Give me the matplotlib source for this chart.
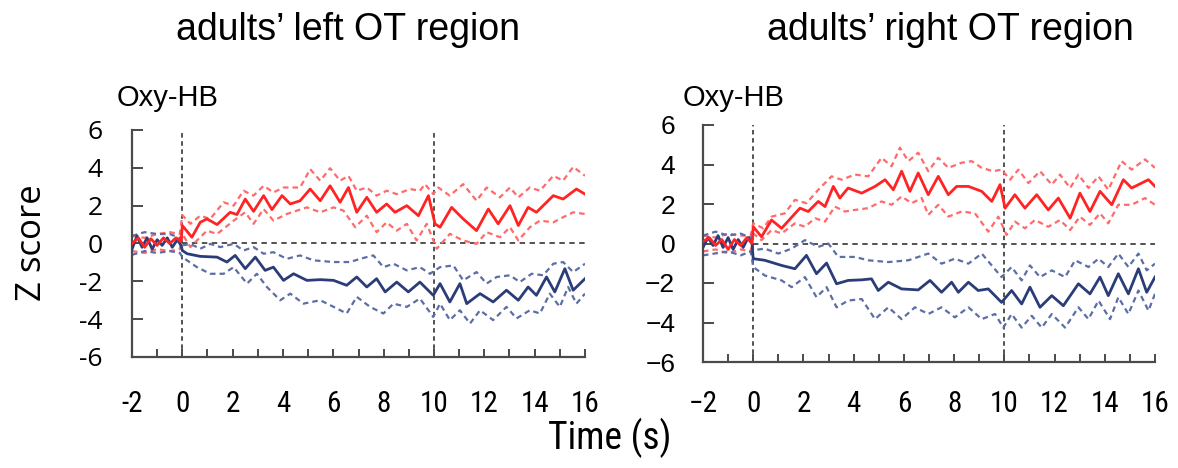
import matplotlib
matplotlib.use("Agg")
import matplotlib.pyplot as plt
from matplotlib import font_manager as fm

# ---------------- data ----------------
titles = ["adults\u2019 left OT region", "adults\u2019 right OT region"]
panel_label = "Oxy-HB"
x_ticks = [-2, 0, 2, 4, 6, 8, 10, 12, 14, 16]
y_ticks = [-6, -4, -2, 0, 2, 4, 6]

# left panel
L_red_t = [-2, -1.75, -1.5, -1.25, -1.0, -0.75, -0.5, -0.25, -0.05, 0, 0.38, 0.71, 0.98, 1.38, 1.9, 2.17, 2.5, 2.83, 3.23, 3.56,
           3.96, 4.29, 4.68, 5.08, 5.48, 5.87, 6.27, 6.6, 6.93, 7.33, 7.72, 8.12, 8.45, 8.92, 9.38, 9.78, 10.04,
           10.24, 10.7, 11.16, 11.69, 12.16, 12.55, 13.02, 13.35, 13.74, 14.07, 14.74, 15.13, 15.66, 16.0]
L_red_z = [0.0, 0.3, -0.2, 0.25, -0.1, 0.3, 0.0, 0.3, 0.1, 0.95, 0.33, 1.12, 1.3, 1.0, 1.65, 1.53, 2.35, 1.7, 2.53, 1.79,
           2.53, 2.09, 2.26, 2.88, 2.26, 3.05, 2.18, 2.96, 1.65, 2.44, 1.65, 2.09, 1.65, 2.0, 1.47, 2.53, 1.04,
           0.86, 1.91, 1.3, 0.68, 1.82, 1.04, 2.0, 0.95, 1.91, 1.65, 2.53, 2.35, 2.88, 2.61]
L_red_up_t = [-2, -1.5, -1.0, -0.5, -0.1, 0, 0.32, 0.71, 1.11, 1.64, 2.04, 2.43, 2.83, 3.23, 3.62, 4.02, 4.68, 5.08, 5.48,
              5.87, 6.27, 6.6, 6.93, 7.33, 7.72, 8.12, 8.52, 9.05, 9.44, 9.64, 9.97, 10.17, 10.63, 11.16, 11.69,
              12.09, 12.62, 13.02, 13.35, 13.81, 14.21, 14.74, 15.13, 15.53, 16.0]
L_red_up_z = [0.4, 0.3, 0.5, 0.6, 0.5, 1.5, 1.04, 1.47, 1.3, 2.18, 2.0, 2.79, 2.53, 3.05, 2.7, 2.96, 2.96, 3.93, 3.32,
              3.98, 3.32, 3.58, 2.79, 2.96, 2.53, 2.79, 2.61, 2.88, 2.79, 3.14, 2.61, 2.96, 2.53, 3.14, 2.26,
              2.96, 2.44, 2.96, 2.44, 2.96, 2.79, 3.58, 3.32, 4.05, 3.58]
L_red_lo_t = [-2, -1.5, -1.0, -0.5, -0.1, 0, 0.32, 0.71, 0.98, 1.38, 2.04, 2.5, 2.83, 3.23, 3.62, 4.15, 4.95, 5.48, 6.01,
              6.4, 6.87, 7.33, 7.72, 8.12, 8.52, 8.92, 9.31, 9.71, 10.11, 10.63, 11.16, 11.69, 12.09, 12.62,
              13.02, 13.35, 13.81, 14.21, 14.74, 15.13, 15.53, 16.0]
L_red_lo_z = [-0.4, -0.5, -0.3, -0.4, -0.3, 0.5, -0.19, 0.33, 0.68, 0.5, 1.21, 1.65, 1.04, 1.82, 1.21, 1.56, 1.91, 1.65, 1.91,
              1.74, 0.86, 1.47, 0.6, 1.12, 0.68, 1.04, 0.16, 1.04, -0.28, 0.51, 0.16, -0.02, 0.6, 0.33,
              0.86, 0.16, 0.86, 1.21, 1.12, 1.39, 1.65, 1.56]
L_blue_t = [-2, -1.8, -1.6, -1.4, -1.2, -1.0, -0.8, -0.6, -0.4, -0.2, -0.05, 0, 0.19, 0.71, 1.38, 1.77, 2.1, 2.5, 2.9, 3.29,
            3.62, 4.02, 4.42, 4.95, 5.48, 6.01, 6.53, 6.93, 7.33, 7.72, 8.06, 8.52, 8.98, 9.44, 9.97, 10.24,
            10.63, 11.03, 11.3, 11.83, 12.35, 12.88, 13.35, 13.74, 14.07, 14.47, 14.8, 15.2, 15.53, 16.0]
L_blue_z = [-0.3, 0.4, -0.2, 0.3, -0.3, 0.2, -0.1, 0.3, -0.2, 0.2, -0.1, -0.37, -0.54, -0.68, -0.72, -0.98, -0.63, -1.33, -0.72, -1.42,
            -1.25, -1.95, -1.6, -1.95, -1.91, -1.95, -2.21, -1.77, -2.3, -1.86, -2.56, -2.04, -2.56, -2.04, -2.74, -2.12,
            -3.09, -2.12, -3.18, -2.65, -3.09, -2.47, -3.0, -2.3, -2.74, -1.77, -2.56, -1.33, -2.47, -1.86]
L_blue_up_t = [-2, -1.5, -1.0, -0.5, -0.1, 0, 0.32, 0.71, 1.11, 1.51, 2.04, 2.43, 2.83, 3.23, 3.62, 4.15, 4.68, 5.21, 6.01,
               6.67, 7.06, 7.59, 7.99, 8.39, 8.92, 9.44, 9.84, 10.24, 10.77, 11.16, 11.69, 12.09, 12.49, 13.02,
               13.41, 13.88, 14.34, 14.74, 15.13, 15.53, 16.0]
L_blue_up_z = [0.4, 0.6, 0.5, 0.5, 0.3, -0.1, -0.02, -0.28, -0.02, -0.19, -0.02, -0.37, -0.19, -0.54, -0.46, -0.81, -0.63, -0.89, -0.98,
               -0.98, -0.81, -0.63, -1.25, -1.07, -1.42, -1.25, -1.6, -1.25, -1.16, -1.95, -1.51, -2.12, -1.77, -1.68,
               -2.04, -1.6, -1.68, -1.07, -0.98, -1.51, -1.07]
L_blue_lo_t = [-2, -1.5, -1.0, -0.5, -0.1, 0, 0.58, 1.11, 1.64, 2.04, 2.57, 2.96, 3.36, 3.89, 4.29, 4.81, 5.48, 6.01, 6.53,
               6.93, 7.46, 7.99, 8.39, 8.92, 9.44, 9.97, 10.24, 10.63, 11.03, 11.43, 11.83, 12.35, 12.88, 13.28,
               13.81, 14.21, 14.6, 15.0, 15.33, 15.66, 16.0]
L_blue_lo_z = [-0.6, -0.4, -0.5, -0.4, -0.5, -0.72, -1.25, -1.6, -1.6, -1.25, -2.12, -1.6, -2.3, -3.0, -2.65, -3.18, -3.0, -3.35, -3.7,
               -2.82, -3.35, -3.7, -3.18, -3.35, -2.91, -3.88, -3.18, -4.05, -3.53, -4.23, -3.53, -4.05, -3.35, -3.96,
               -3.53, -3.7, -2.65, -3.35, -2.3, -3.18, -2.65]

# right panel
R_red_t = [-2, -1.75, -1.5, -1.25, -1.0, -0.75, -0.5, -0.25, -0.05, 0, 0.33, 0.73, 1.13, 1.86, 2.19, 2.59, 2.86, 3.19, 3.45,
           3.78, 4.32, 4.85, 5.25, 5.58, 5.91, 6.24, 6.57, 6.97, 7.37, 7.77, 8.1, 8.57, 9.1, 9.5, 9.83, 10.03,
           10.42, 10.82, 11.29, 11.75, 12.15, 12.62, 13.01, 13.41, 13.81, 14.28, 14.74, 15.07, 15.74, 16.0]
R_red_z = [0.1, 0.3, -0.1, 0.2, -0.3, 0.2, -0.1, 0.3, 0.0, 0.85, 0.34, 1.19, 0.77, 1.79, 1.62, 2.13, 1.87, 2.89, 2.3,
           2.81, 2.55, 2.89, 3.23, 2.72, 3.66, 2.64, 3.57, 2.47, 3.4, 2.47, 2.89, 2.89, 2.64, 2.13, 2.98, 1.79,
           2.47, 1.79, 2.47, 1.7, 2.3, 1.28, 2.55, 1.62, 2.64, 1.96, 3.23, 2.81, 3.23, 2.89]
R_red_up_t = [-2, -1.5, -1.0, -0.5, -0.1, 0, 0.4, 0.73, 1.26, 1.66, 2.12, 2.59, 3.12, 3.52, 4.05, 4.58, 5.11, 5.51, 5.84,
              6.18, 6.57, 6.97, 7.37, 7.77, 8.3, 8.7, 9.1, 9.56, 9.89, 10.23, 10.56, 10.96, 11.42, 11.89, 12.22,
              12.62, 12.95, 13.35, 13.75, 14.14, 14.67, 15.07, 15.6, 16.0]
R_red_up_z = [0.4, 0.3, 0.5, 0.4, 0.4, 1.02, 0.77, 1.36, 1.53, 2.21, 2.04, 2.72, 3.4, 3.23, 3.49, 3.4, 4.34, 3.91, 4.85,
              4.17, 4.6, 3.66, 4.34, 3.83, 4.09, 4.17, 3.83, 3.66, 3.74, 3.23, 3.74, 3.06, 3.66, 2.98, 3.49,
              2.81, 3.49, 2.81, 3.4, 2.72, 4.17, 3.74, 4.26, 3.83]
R_red_lo_t = [-2, -1.5, -1.0, -0.5, -0.1, 0, 0.33, 0.73, 1.13, 1.66, 2.06, 2.46, 2.86, 3.25, 3.65, 4.05, 4.58, 5.11, 5.51,
              5.91, 6.31, 6.71, 6.97, 7.37, 7.77, 8.3, 8.83, 9.36, 9.76, 10.09, 10.42, 10.82, 11.22, 11.75, 12.22,
              12.62, 13.01, 13.41, 13.81, 14.14, 14.54, 15.07, 15.6, 16.0]
R_red_lo_z = [-0.4, -0.3, -0.5, -0.3, -0.4, 0.51, 0.17, 0.68, 0.51, 1.02, 0.85, 1.28, 1.11, 1.87, 1.62, 1.7, 1.79, 2.13, 1.96,
              2.38, 2.04, 2.3, 1.45, 1.96, 1.36, 1.62, 1.53, 0.6, 1.36, 0.43, 1.11, 0.77, 1.19, 0.85, 1.19,
              0.68, 1.36, 0.94, 1.53, 1.02, 1.96, 1.96, 2.3, 1.96]
R_blue_t = [-2, -1.8, -1.6, -1.4, -1.2, -1.0, -0.8, -0.6, -0.4, -0.2, -0.05, 0, 0.46, 1.13, 1.66, 2.12, 2.52, 2.92, 3.32, 3.78,
            4.32, 4.71, 4.98, 5.38, 5.91, 6.57, 7.04, 7.5, 7.9, 8.17, 8.57, 8.96, 9.36, 9.89, 10.29, 10.69,
            11.02, 11.42, 11.89, 12.35, 12.95, 13.41, 13.81, 14.14, 14.54, 14.94, 15.34, 15.67, 16.0]
R_blue_z = [-0.2, 0.3, -0.1, 0.4, -0.2, 0.3, -0.3, 0.2, -0.2, 0.3, 0.0, -0.77, -0.85, -1.11, -1.28, -0.6, -1.53, -0.99, -2.04, -1.87,
            -1.84, -1.79, -2.38, -1.96, -2.3, -2.35, -1.87, -2.47, -1.96, -2.47, -1.96, -2.38, -2.3, -2.98, -2.38, -3.06,
            -2.21, -3.23, -2.64, -3.15, -2.04, -2.55, -1.7, -2.64, -1.53, -2.55, -1.28, -2.47, -1.7]
R_blue_up_t = [-2, -1.5, -1.0, -0.5, -0.1, 0, 0.46, 1.0, 1.53, 2.06, 2.59, 2.99, 3.39, 4.05, 4.58, 5.38, 6.18, 6.97, 7.5,
               8.03, 8.57, 9.1, 9.89, 10.29, 10.69, 11.02, 11.42, 11.89, 12.42, 12.82, 13.35, 13.75, 14.14, 14.54,
               14.94, 15.34, 15.67, 16.0]
R_blue_up_z = [0.4, 0.6, 0.4, 0.5, 0.3, -0.34, -0.26, -0.51, -0.26, 0.17, -0.17, 0.0, -0.68, -0.68, -0.85, -0.94, -0.85, -0.51, -1.02,
               -0.77, -1.02, -0.51, -1.7, -1.19, -1.87, -1.11, -1.7, -1.36, -1.7, -0.85, -1.19, -0.77, -1.19, -0.51,
               -1.19, -0.51, -1.36, -1.02]
R_blue_lo_t = [-2, -1.5, -1.0, -0.5, -0.1, 0, 0.46, 1.13, 1.53, 2.06, 2.52, 2.92, 3.32, 3.78, 4.32, 4.85, 5.38, 5.91, 6.44,
               6.97, 7.5, 8.03, 8.57, 9.1, 9.63, 9.96, 10.29, 10.69, 11.09, 11.49, 11.89, 12.42, 12.95, 13.35,
               13.75, 14.21, 14.54, 14.94, 15.34, 15.74, 16.0]
R_blue_lo_z = [-0.6, -0.5, -0.4, -0.6, -0.4, -1.19, -1.62, -1.87, -2.21, -1.7, -2.72, -2.21, -3.23, -2.89, -2.81, -3.83, -3.23, -3.83, -3.23,
               -3.57, -3.23, -3.74, -3.23, -3.83, -3.57, -4.26, -3.57, -4.26, -3.66, -4.26, -3.57, -4.26, -3.23, -3.83,
               -2.89, -3.83, -2.72, -3.57, -2.38, -3.4, -2.55]

panels = [
    dict(red=(L_red_t, L_red_z), red_up=(L_red_up_t, L_red_up_z), red_lo=(L_red_lo_t, L_red_lo_z),
         blue=(L_blue_t, L_blue_z), blue_up=(L_blue_up_t, L_blue_up_z), blue_lo=(L_blue_lo_t, L_blue_lo_z)),
    dict(red=(R_red_t, R_red_z), red_up=(R_red_up_t, R_red_up_z), red_lo=(R_red_lo_t, R_red_lo_z),
         blue=(R_blue_t, R_blue_z), blue_up=(R_blue_up_t, R_blue_up_z), blue_lo=(R_blue_lo_t, R_blue_lo_z)),
]

# ---------------- fonts ----------------
avail = {f.name for f in fm.fontManager.ttflist}
def pick(*names):
    for n in names:
        if n in avail:
            return n
    return "DejaVu Sans"
F_ARIAL = pick("Liberation Sans", "Arial", "DejaVu Sans")
F_NARROW = pick("Liberation Sans Narrow", "DejaVu Sans Condensed", "Roboto Condensed", "Liberation Sans")
F_CALIBRI = pick("Open Sans", "Lato", "Liberation Sans")

RED = "#ff2424"
RED_CI = "#ff6a6a"
BLUE = "#2b3d78"
BLUE_CI = "#5c6ea6"
SPINE = "#4a4a4a"

fig = plt.figure(figsize=(11.78, 4.68), dpi=100)
W, H = 1178, 468
boxes = [(132, 130, 585, 357), (703, 125, 1155, 362)]

for i, (pan, box) in enumerate(zip(panels, boxes)):
    x0, y0, x1, y1 = box
    ax = fig.add_axes([x0 / W, 1 - y1 / H, (x1 - x0) / W, (y1 - y0) / H])
    ax.set_xlim(-2, 16)
    ax.set_ylim(-6, 6)
    for s in ["top", "right"]:
        ax.spines[s].set_visible(False)
    for s in ["left", "bottom"]:
        ax.spines[s].set_color(SPINE)
        ax.spines[s].set_linewidth(1.6)

    # reference lines
    ax.plot([0, 16], [0, 0], color="#444444", lw=1.3, ls=(0, (3, 2.5)), zorder=1)
    for xv in (0, 10):
        ax.plot([xv, xv], [-6, 6], color="#444444", lw=1.3, ls=(0, (2.5, 2)), zorder=1)

    # CIs
    for key, col in (("red_up", RED_CI), ("red_lo", RED_CI), ("blue_up", BLUE_CI), ("blue_lo", BLUE_CI)):
        t, z = pan[key]
        ax.plot(t, z, color=col, lw=1.6, ls=(0, (2.5, 1.8)), zorder=2)
    # means
    t, z = pan["blue"]
    ax.plot(t, z, color=BLUE, lw=2.0, zorder=3, solid_joinstyle="round")
    t, z = pan["red"]
    ax.plot(t, z, color=RED, lw=2.0, zorder=3, solid_joinstyle="round")

    ax.set_xticks(range(-2, 17), minor=False)
    ax.set_xticklabels([str(v) if v in x_ticks else "" for v in range(-2, 17)] if i == 0 else
                       [(str(v) if v >= 0 else "\u2212" + str(-v)) if v in x_ticks else "" for v in range(-2, 17)])
    ax.set_yticks(y_ticks)
    if i == 0:
        ax.set_yticklabels([str(v) for v in y_ticks], fontfamily=F_CALIBRI, fontsize=19)
        ax.tick_params(axis="y", direction="in", length=8, width=1.4, color=SPINE, pad=21)
        ax.tick_params(axis="x", direction="in", length=6, width=1.4, color=SPINE, pad=24)
    else:
        ax.set_yticklabels([(str(v) if v >= 0 else "\u2212" + str(-v)) for v in y_ticks],
                           fontfamily=F_ARIAL, fontsize=19)
        ax.tick_params(axis="y", direction="in", length=8, width=1.4, color=SPINE, pad=20)
        ax.tick_params(axis="x", direction="in", length=6, width=1.4, color=SPINE, pad=20)
    for lab in ax.get_xticklabels():
        lab.set_fontfamily(F_NARROW)
        lab.set_fontsize(21)

    # panel label
    lx = 117 if i == 0 else 683
    fig.text(lx / W, 1 - 98 / H, panel_label, fontfamily=F_ARIAL, fontsize=21, ha="left", va="center")

# titles
fig.text(348 / W, 1 - 30 / H, titles[0], fontfamily=F_ARIAL, fontsize=27, ha="center", va="center")
fig.text(950 / W, 1 - 30 / H, titles[1], fontfamily=F_ARIAL, fontsize=27, ha="center", va="center")
# axis labels
fig.text(32 / W, 1 - 243 / H, "Z score", fontfamily=F_CALIBRI, fontsize=25, rotation=90, ha="center", va="center")
fig.text(610 / W, 1 - 438 / H, "Time (s)", fontfamily=F_NARROW, fontsize=27, ha="center", va="center")

fig.savefig("out.png", dpi=100)
